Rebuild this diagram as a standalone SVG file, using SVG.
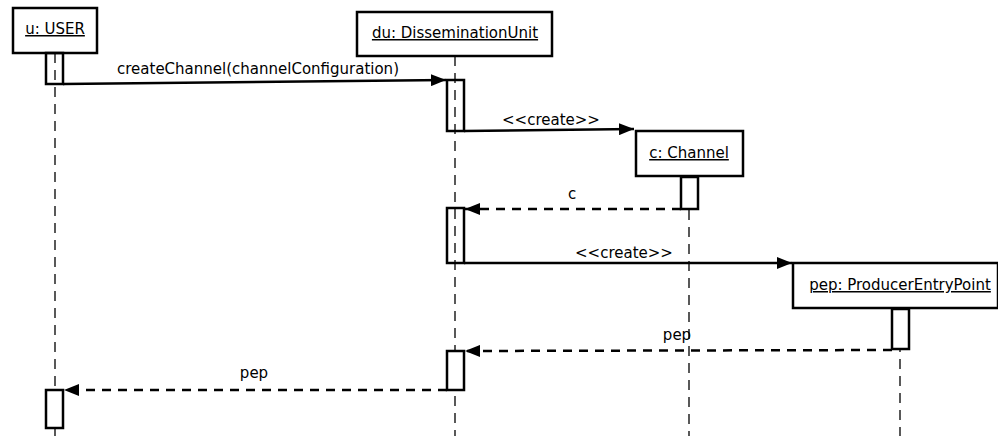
<svg xmlns="http://www.w3.org/2000/svg" width="998" height="436" viewBox="0 0 998 436">
<style>
.box{fill:#fff;stroke:#000;stroke-width:2.5}
.act{fill:#fff;stroke:#000;stroke-width:2.5}
.life{stroke:#000;stroke-width:1.3;stroke-dasharray:10,7;fill:none}
.msg{stroke:#000;stroke-width:2.5;fill:none}
.ret{stroke:#000;stroke-width:2.5;stroke-dasharray:9,7;fill:none}
text{font-family:"DejaVu Sans",sans-serif;font-size:15px;fill:#000}
.name{text-anchor:middle;text-decoration:underline}
.lbl{text-anchor:middle}
</style>
<defs>
<marker id="ah" markerWidth="16" markerHeight="12" refX="15" refY="6" orient="auto" markerUnits="userSpaceOnUse">
<path d="M0,0 L15,6 L0,12 Z" fill="#000"/>
</marker>
</defs>
<rect width="998" height="436" fill="#fff"/>
<g id="lifelines">
<line class="life" x1="55" y1="53" x2="55" y2="436"/>
<line class="life" x1="455" y1="56" x2="455" y2="436"/>
<line class="life" x1="689" y1="176" x2="689" y2="436"/>
<line class="life" x1="900" y1="308" x2="900" y2="436"/>
</g>
<g id="n-user">
<rect class="box" x="13" y="8" width="84" height="45"/>
<text class="name" x="55" y="34">u: USER</text>
<rect class="act" x="46" y="53" width="17" height="31" fill-opacity="0"/>
<rect class="act" x="46" y="390" width="17" height="38"/>
</g>
<g id="n-du">
<rect class="box" x="357" y="12" width="195" height="44"/>
<text class="name" x="455" y="38">du: DisseminationUnit</text>
<rect class="act" x="447" y="80" width="17" height="51" fill-opacity="0"/>
<rect class="act" x="447" y="208" width="17" height="55" fill-opacity="0"/>
<rect class="act" x="447" y="351" width="17" height="39"/>
</g>
<g id="n-channel">
<rect class="box" x="636" y="131" width="107" height="45"/>
<text class="name" x="689" y="158">c: Channel</text>
<rect class="act" x="681" y="177" width="17" height="32"/>
</g>
<g id="n-pep">
<rect class="box" x="793" y="263" width="205" height="45"/>
<text class="name" x="900" y="290">pep: ProducerEntryPoint</text>
<rect class="act" x="892" y="309" width="17" height="40"/>
</g>
<g id="connectors">
<line class="msg" x1="63" y1="84" x2="446" y2="80" marker-end="url(#ah)"/>
<text class="lbl" x="258" y="74">createChannel(channelConfiguration)</text>
<line class="msg" x1="464" y1="131" x2="634" y2="129" marker-end="url(#ah)"/>
<text class="lbl" x="551" y="125">&lt;&lt;create&gt;&gt;</text>
<line class="ret" x1="681" y1="209" x2="465" y2="209" marker-end="url(#ah)"/>
<text class="lbl" x="572" y="199">c</text>
<line class="msg" x1="464" y1="263" x2="792" y2="263" marker-end="url(#ah)"/>
<text class="lbl" x="624" y="258">&lt;&lt;create&gt;&gt;</text>
<line class="ret" x1="892" y1="350" x2="465" y2="351" marker-end="url(#ah)"/>
<text class="lbl" x="677" y="340">pep</text>
<line class="ret" x1="447" y1="390" x2="64" y2="390" marker-end="url(#ah)"/>
<text class="lbl" x="254" y="378">pep</text>
</g>
</svg>
